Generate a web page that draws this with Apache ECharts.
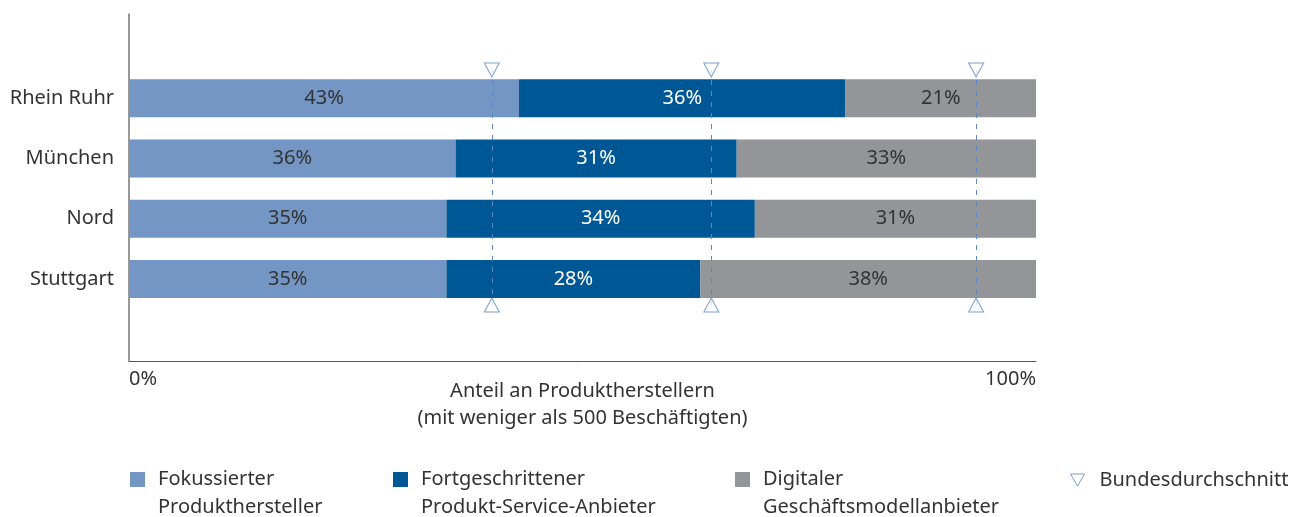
<!DOCTYPE html>
<html>
<head>
<meta charset="utf-8">
<script src="https://cdn.jsdelivr.net/npm/echarts@6/dist/echarts.min.js"></script>
<style>
html,body{margin:0;padding:0;background:#fff;}
#chart{width:1293px;height:517px;}
</style>
</head>
<body>
<div id="chart"></div>
<script>
// ---- data ----
const categories = ['Rhein Ruhr', 'München', 'Nord', 'Stuttgart'];
const fokussiert = [43, 36, 35, 35];
const fortgeschritten = [36, 31, 34, 28];
const digital = [21, 33, 31, 38];
const bundesdurchschnitt = [40, 64.2, 93.4];
const seriesNames = ['Fokussierter Produkthersteller', 'Fortgeschrittener Produkt-Service-Anbieter', 'Digitaler Geschäftsmodellanbieter', 'Bundesdurchschnitt'];
const xTickLabels = ['0%', '100%'];
const axisTitle = 'Anteil an Produktherstellern\n(mit weniger als 500 Beschäftigten)';

const FONT = "'Noto Sans', sans-serif";
const TXT = '#333333';
const C1 = '#7396c4', C2 = '#005795', C3 = '#939598', CM = '#5b87c6';

const chart = echarts.init(document.getElementById('chart'), null, {renderer: 'canvas'});

function barSeries(name, data, color, labelColor) {
  return {
    type: 'bar', name: name, stack: 'total', xAxisIndex: 1, yAxisIndex: 1,
    data: data, barWidth: 38, z: 1, clip: true,
    itemStyle: {color: color},
    label: {show: true, position: 'inside', formatter: '{c}%', color: labelColor, fontSize: 20, fontFamily: FONT},
    emphasis: {disabled: true}
  };
}

const markerData = [];
bundesdurchschnitt.forEach(p => {
  markerData.push({value: [p, 1], symbolRotate: 180});
  markerData.push({value: [p, 0]});
});

const sqIcon = 'path://M0,0L15,0L15,15L0,15Z M23,42';
const triIcon = 'path://M0,0L14,0L7,12Z M24,12';
const legendText = {fontSize: 20, color: TXT, fontFamily: FONT, lineHeight: 28};
function legendFor(i, left, top, icon, w, h, extra) {
  return Object.assign({
    data: [seriesNames[i]], left: left, top: top, icon: icon, padding: 0,
    itemWidth: w, itemHeight: h, selectedMode: false,
    formatter: n => n.replace(' ', '\n'),
    textStyle: legendText
  }, extra || {});
}

const option = {
  animation: false,
  backgroundColor: '#fff',
  textStyle: {fontFamily: FONT},
  grid: [
    {left: 129, top: 14, width: 907, height: 347},
    {left: 129, top: 68, width: 907, height: 241},
    {left: 129, top: 70, width: 907, height: 235}
  ],
  xAxis: [
    {gridIndex: 0, type: 'value', min: 0, max: 100, interval: 100,
     axisLine: {show: true, lineStyle: {color: '#555', width: 1}},
     axisTick: {show: false}, splitLine: {show: false},
     axisLabel: {formatter: v => xTickLabels[v === 0 ? 0 : 1], fontSize: 20, color: TXT, margin: 8,
                 alignMinLabel: 'left', alignMaxLabel: 'right', fontFamily: FONT},
     name: axisTitle, nameLocation: 'middle', nameGap: 17, nameMoveOverlap: false,
     nameTextStyle: {fontSize: 20, color: TXT, lineHeight: 27, fontFamily: FONT, verticalAlign: 'top'}},
    {gridIndex: 1, type: 'value', min: 0, max: 100, show: false},
    {gridIndex: 2, type: 'value', min: 0, max: 100, show: false}
  ],
  yAxis: [
    {gridIndex: 0, type: 'value', min: 0, max: 1,
     axisLine: {show: true, onZero: false, lineStyle: {color: '#777', width: 1.5}},
     axisTick: {show: false}, axisLabel: {show: false}, splitLine: {show: false}},
    {gridIndex: 1, type: 'category', data: categories, inverse: true,
     axisLine: {show: false}, axisTick: {show: false}, splitLine: {show: false},
     axisLabel: {fontSize: 20, color: TXT, margin: 15, fontFamily: FONT}},
    {gridIndex: 2, type: 'value', min: 0, max: 1, show: false}
  ],
  legend: [
    legendFor(0, 130, 465, sqIcon, 23, 42),
    legendFor(1, 393, 465, sqIcon, 23, 42),
    legendFor(2, 735, 465, sqIcon, 23, 42),
    legendFor(3, 1070, 466, triIcon, 24, 12, {itemStyle: {borderWidth: 1, borderColor: CM, color: '#fff'}})
  ],
  series: [
    barSeries(seriesNames[0], fokussiert, C1, TXT),
    barSeries(seriesNames[1], fortgeschritten, C2, '#ffffff'),
    barSeries(seriesNames[2], digital, C3, TXT),
    {
      type: 'scatter', name: seriesNames[3], xAxisIndex: 2, yAxisIndex: 2,
      symbol: 'triangle', symbolSize: [15, 14], z: 3,
      itemStyle: {color: '#fff', borderColor: CM, borderWidth: 1},
      data: markerData, silent: true,
      markLine: {
        silent: true, symbol: ['none', 'none'], z: 2,
        label: {show: false},
        lineStyle: {color: CM, type: [5, 6], width: 1},
        data: bundesdurchschnitt.map(p => ({xAxis: p}))
      }
    }
  ]
};
chart.setOption(option);
</script>
</body>
</html>
